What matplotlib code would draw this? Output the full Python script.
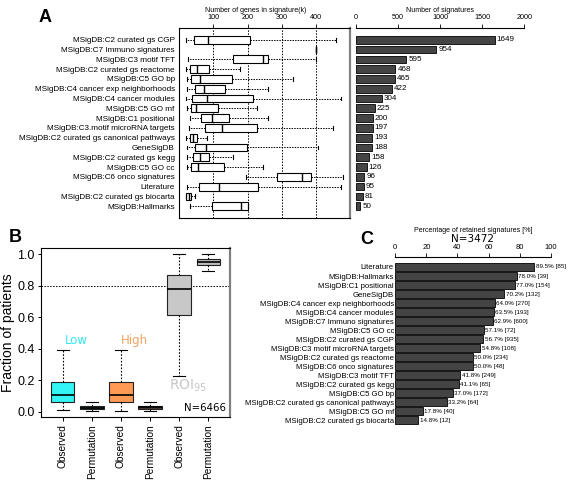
import matplotlib
matplotlib.use('Agg')
import matplotlib.pyplot as plt

plt.rcParams['font.family'] = ['Liberation Sans', 'DejaVu Sans']

# ---------------- data ----------------
categories_A = [
    "MSigDB:C2 curated gs CGP", "MSigDB:C7 Immuno signatures", "MSigDB:C3 motif TFT",
    "MSigDB:C2 curated gs reactome", "MSigDB:C5 GO bp", "MSigDB:C4 cancer exp neighborhoods",
    "MSigDB:C4 cancer modules", "MSigDB:C5 GO mf", "MSigDB:C1 positional",
    "MSigDB:C3.motif microRNA targets", "MSigDB:C2 curated gs canonical pathways", "GeneSigDB",
    "MSigDB:C2 curated gs kegg", "MSigDB:C5 GO cc", "MSigDB:C6 onco signatures",
    "Literature", "MSigDB:C2 curated gs biocarta", "MSigDB:Hallmarks",
]
n_signatures = [1649, 954, 595, 468, 465, 422, 304, 225, 200, 197, 193, 188, 158, 126, 96, 95, 81, 50]

gene_whislo = [21, 400, 25, 21, 23, 23, 21, 23, 33, 28, 21, 23, 23, 23, 195, 23, 19, 31]
gene_q1     = [43, 400, 159, 31, 35, 47, 38, 36, 65, 75, 31, 47, 41, 35, 286, 57, 21, 96]
gene_med    = [84, 400, 245, 52, 62, 72, 81, 50, 96, 125, 40, 80, 62, 56, 360, 117, 29, 181]
gene_q3     = [208, 400, 261, 89, 155, 133, 215, 113, 145, 227, 52, 198, 89, 130, 385, 230, 36, 201]
gene_whishi = [457, 400, 400, 177, 332, 261, 473, 229, 261, 449, 81, 407, 159, 245, 480, 473, 48, 201]

groups_B = ["Observed", "Permutation", "Observed", "Permutation", "Observed", "Permutation"]
frac_whislo = [0.010, 0.003, 0.005, 0.005, 0.230, 0.890]
frac_q1     = [0.060, 0.018, 0.060, 0.020, 0.615, 0.930]
frac_med    = [0.105, 0.025, 0.110, 0.030, 0.780, 0.950]
frac_q3     = [0.190, 0.035, 0.190, 0.040, 0.870, 0.970]
frac_whishi = [0.390, 0.065, 0.390, 0.065, 1.000, 1.000]
colors_B = ["#33F5F5", "#2E5C5C", "#FF9A55", "#4A3A30", "#C8C8C8", "#BDBDBD"]

categories_C = [
    "Literature", "MSigDB:Hallmarks", "MSigDB:C1 positional", "GeneSigDB",
    "MSigDB:C4 cancer exp neighborhoods", "MSigDB:C4 cancer modules", "MSigDB:C7 Immuno signatures",
    "MSigDB:C5 GO cc", "MSigDB:C2 curated gs CGP", "MSigDB:C3 motif microRNA targets",
    "MSigDB:C2 curated gs reactome", "MSigDB:C6 onco signatures", "MSigDB:C3 motif TFT",
    "MSigDB:C2 curated gs kegg", "MSigDB:C5 GO bp", "MSigDB:C2 curated gs canonical pathways",
    "MSigDB:C5 GO mf", "MSigDB:C2 curated gs biocarta",
]
pct_retained = [89.5, 78.0, 77.0, 70.2, 64.0, 63.5, 62.9, 57.1, 56.7, 54.8, 50.0, 50.0, 41.8, 41.1, 37.0, 33.2, 17.8, 14.8]
n_retained = [85, 39, 154, 132, 270, 193, 600, 72, 935, 108, 234, 48, 249, 65, 172, 64, 40, 12]

# ---------------- layout ----------------
W, H = 567, 482
fig = plt.figure(figsize=(W / 100, H / 100), dpi=100)


def rect(l, t, r, b):
    return [l / W, 1 - b / H, (r - l) / W, (b - t) / H]


def ftext(x, y, s, **kw):
    fig.text(x / W, 1 - y / H, s, **kw)


DARK = '#444444'

# ---------------- Panel A: boxplot ----------------
axA = fig.add_axes(rect(179, 28, 350, 218))
statsA = [dict(whislo=a, q1=b, med=c, q3=d, whishi=e, fliers=[])
          for a, b, c, d, e in zip(gene_whislo, gene_q1, gene_med, gene_q3, gene_whishi)]
axA.bxp(statsA, positions=list(range(len(statsA))), orientation='horizontal', widths=0.8,
        showfliers=False, showcaps=True, patch_artist=True,
        boxprops=dict(facecolor='white', edgecolor='black', linewidth=0.8),
        medianprops=dict(color='black', linewidth=1.0),
        whiskerprops=dict(color='black', linewidth=0.7, linestyle=(0, (1.5, 1.2))),
        capprops=dict(color='black', linewidth=0.8))
for gx in [100, 200, 300, 400]:
    axA.axvline(gx, color='black', linestyle=(0, (1.5, 1.5)), linewidth=0.7, zorder=0)
axA.set_xlim(0, 499)
axA.set_ylim(18.2, -1.2)
axA.xaxis.tick_top()
axA.set_xticks([100, 200, 300, 400])
axA.tick_params(axis='x', labelsize=5.2, length=3, width=0.6, pad=2)
axA.set_yticks(range(len(categories_A)))
axA.set_yticklabels(categories_A, fontsize=5.9)
axA.tick_params(axis='y', length=0, pad=3)
for s in axA.spines.values():
    s.set_linewidth(0.8)
axA.spines['right'].set_color('#808080')
axA.spines['right'].set_linewidth(1.6)

# ---------------- Panel A: bar chart ----------------
axN = fig.add_axes(rect(356, 28, 524.3, 218))
yA = list(range(len(n_signatures)))
axN.barh(yA, n_signatures, height=0.78, color=DARK, edgecolor='black', linewidth=0.6)
for yi, v in zip(yA, n_signatures):
    axN.text(v + 25, yi, str(v), va='center', ha='left', fontsize=5.8)
axN.set_xlim(0, 2000)
axN.set_ylim(18.2, -1.2)
axN.xaxis.tick_top()
axN.set_xticks([0, 500, 1000, 1500, 2000])
axN.tick_params(axis='x', labelsize=5.2, length=3, width=0.6, pad=2)
axN.set_yticks([])
for k in ['left', 'right', 'bottom']:
    axN.spines[k].set_visible(False)
axN.spines['top'].set_linewidth(0.8)

ftext(256, 10, "Number of genes in signature(k)", ha='center', va='center', fontsize=5)
ftext(440, 10, "Number of signatures", ha='center', va='center', fontsize=5)

# ---------------- Panel B ----------------
axB = fig.add_axes(rect(41, 248, 230, 417))
statsB = [dict(whislo=a, q1=b, med=c, q3=d, whishi=e, fliers=[])
          for a, b, c, d, e in zip(frac_whislo, frac_q1, frac_med, frac_q3, frac_whishi)]
posB = list(range(1, len(statsB) + 1))
bp = axB.bxp(statsB, positions=posB, widths=0.8, showfliers=False, patch_artist=True,
             boxprops=dict(edgecolor='#222222', linewidth=0.8),
             medianprops=dict(color='black', linewidth=1.2),
             whiskerprops=dict(color='black', linewidth=0.8, linestyle=(0, (1.5, 1.5))),
             capprops=dict(color='black', linewidth=0.8))
for patch, c in zip(bp['boxes'], colors_B):
    patch.set_facecolor(c)
axB.axhline(0.8, color='black', linestyle=(0, (1.5, 1.5)), linewidth=0.7, zorder=0)
axB.set_xlim(0.25, 6.75)
axB.set_ylim(-0.032, 1.038)
axB.set_yticks([0.0, 0.2, 0.4, 0.6, 0.8, 1.0])
axB.set_yticklabels(['0.0', '0.2', '0.4', '0.6', '0.8', '1.0'])
axB.tick_params(axis='y', labelsize=9, length=2.5, width=0.7, pad=2)
axB.set_xticks(posB)
axB.set_xticklabels(groups_B, rotation=90, fontsize=7.3)
axB.tick_params(axis='x', length=3, width=0.7, pad=2)
axB.set_ylabel("Fraction of patients", fontsize=10)
axB.yaxis.set_label_coords(-0.14, 0.5)
for s in axB.spines.values():
    s.set_linewidth(0.8)
axB.spines['right'].set_color('#808080')
axB.spines['right'].set_linewidth(1.6)
axB.text(1.48, 0.45, "Low", color='#33E8F0', fontsize=8.5, family='DejaVu Sans', ha='center', va='center')
axB.text(3.48, 0.45, "High", color='#F5A060', fontsize=8.5, family='DejaVu Sans', ha='center', va='center')
axB.text(5.3, 0.165, r"ROI$_\mathregular{95}$", color='#C8C8C8', fontsize=10, family='DejaVu Sans',
         ha='center', va='center')
axB.text(6.62, 0.025, "N=6466", color='black', fontsize=7.3, family='DejaVu Sans', ha='right',
         va='center')

# ---------------- Panel C ----------------
axC = fig.add_axes(rect(395.3, 257, 550.7, 430))
yC = list(range(len(pct_retained)))
axC.barh(yC, pct_retained, height=0.8, color=DARK, edgecolor='black', linewidth=0.6)
for yi, p, n in zip(yC, pct_retained, n_retained):
    axC.text(p + 0.8, yi, f"{p:.1f}% [{n}]", va='center', ha='left', fontsize=4.5)
axC.set_xlim(0, 100)
axC.set_ylim(18.1, -1.11)
axC.xaxis.tick_top()
axC.set_xticks([0, 20, 40, 60, 80, 100])
axC.tick_params(axis='x', labelsize=5.5, length=3, width=0.6, pad=1.5)
axC.set_yticks(yC)
axC.set_yticklabels(categories_C, fontsize=5.6)
axC.tick_params(axis='y', length=0, pad=1)
for k in ['left', 'right', 'bottom']:
    axC.spines[k].set_visible(False)
axC.spines['top'].set_linewidth(0.8)

ftext(473, 230, "Percentage of retained signatures [%]", ha='center', va='center', fontsize=5)
ftext(473, 239, "N=3472", ha='center', va='center', fontsize=7.5, family='DejaVu Sans')

# ---------------- Panel letters ----------------
ftext(45, 17, "A", ha='center', va='center', fontsize=13, fontweight='bold')
ftext(15, 237, "B", ha='center', va='center', fontsize=13, fontweight='bold')
ftext(367, 240, "C", ha='center', va='center', fontsize=13, fontweight='bold')

fig.savefig("out.png", dpi=100)
